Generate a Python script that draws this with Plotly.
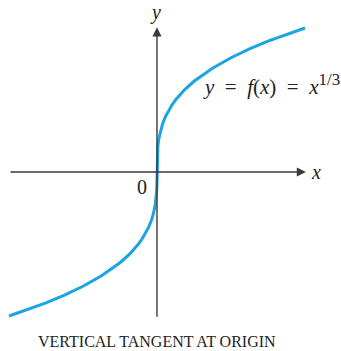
import plotly.graph_objects as go

# curve points (y = cube root of x)
x_vals = [-8, -7, -6, -5, -4, -3, -2.5, -2, -1.5, -1.2, -1, -0.8, -0.6, -0.45, -0.3, -0.2, -0.1, -0.05, -0.02, -0.005, 0,
          0.005, 0.02, 0.05, 0.1, 0.2, 0.3, 0.45, 0.6, 0.8, 1, 1.2, 1.5, 2, 2.5, 3, 4, 5, 6, 7, 8]
y_vals = [-2.0, -1.913, -1.817, -1.71, -1.587, -1.442, -1.357, -1.26, -1.145, -1.063, -1.0, -0.928, -0.843, -0.766, -0.669, -0.585, -0.464, -0.368, -0.271, -0.171, 0,
          0.171, 0.271, 0.368, 0.464, 0.585, 0.669, 0.766, 0.843, 0.928, 1.0, 1.063, 1.145, 1.26, 1.357, 1.442, 1.587, 1.71, 1.817, 1.913, 2.0]

x_axis_span = [-8.0, 8.05]
y_axis_span = [-2.03, 2.01]

EQ = "&nbsp;&nbsp;=&nbsp;&nbsp;"
formula = ("<i>y</i>" + EQ + "<i>f</i>(<i>x</i>)" + EQ +
           "<i>x</i><sup><span style='font-size:17px'>1/3</span></sup>")
caption = "VERTICAL TANGENT AT ORIGIN"

SERIF = "Liberation Serif, Times New Roman, serif"
AXIS_COL = "#3a3a3a"

fig = go.Figure()

fig.add_trace(go.Scatter(x=x_vals, y=y_vals, mode="lines",
                         line=dict(color="#1ba4e2", width=3), hoverinfo="skip"))

# axes with arrow heads
fig.add_annotation(x=x_axis_span[1], y=0, ax=x_axis_span[0], ay=0, xref="x", yref="y",
                   axref="x", ayref="y", text="", showarrow=True, arrowhead=2,
                   arrowsize=1.3, arrowwidth=1.4, arrowcolor=AXIS_COL)
fig.add_annotation(x=0, y=y_axis_span[1], ax=0, ay=y_axis_span[0], xref="x", yref="y",
                   axref="x", ayref="y", text="", showarrow=True, arrowhead=2,
                   arrowsize=1.3, arrowwidth=1.4, arrowcolor=AXIS_COL)

# labels
fig.add_annotation(x=-0.1, y=2.22, text="<i>y</i>", showarrow=False,
                   font=dict(family=SERIF, size=20, color="#222"))
fig.add_annotation(x=8.6, y=0.0, text="<i>x</i>", showarrow=False,
                   font=dict(family=SERIF, size=20, color="#222"))
fig.add_annotation(x=-0.81, y=-0.215, text="0", showarrow=False,
                   font=dict(family=SERIF, size=20, color="#222"))
fig.add_annotation(x=6.19, y=1.22, text=formula, showarrow=False,
                   font=dict(family=SERIF, size=21, color="#222"))
fig.add_annotation(x=0.0, y=-2.36, text=caption, showarrow=False,
                   font=dict(family=SERIF, size=16, color="#222"))

fig.update_layout(
    width=341, height=351,
    margin=dict(l=0, r=0, t=0, b=0),
    paper_bgcolor="white", plot_bgcolor="white",
    showlegend=False,
    xaxis=dict(range=[-8.486, 9.946], visible=False, fixedrange=True),
    yaxis=dict(range=[-2.486, 2.389], visible=False, fixedrange=True),
)

fig.write_html("out.html", config={"displayModeBar": False},
               post_script="document.body.style.margin='0';document.body.style.overflow='hidden';")
